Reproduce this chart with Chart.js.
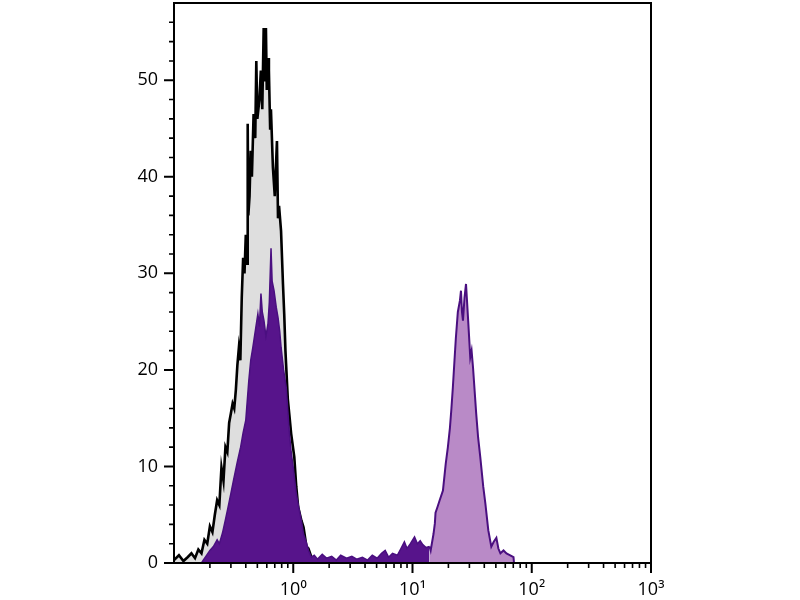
<!DOCTYPE html>
<html>
<head>
<meta charset="utf-8">
<script src="https://cdn.jsdelivr.net/npm/chart.js@4.4.1/dist/chart.umd.min.js"></script>
<style>
    html, body { margin: 0; padding: 0; background: #fff; }
    #wrap { width: 800px; height: 600px; position: relative; }
</style>
</head>
<body>
<div id="wrap"><canvas id="histChart"></canvas></div>
<script>
// Control (isotype) histogram - grey fill, black outline
const controlX = [0.10,0.11,0.12,0.13,0.14,0.15,0.16,0.17,0.18,0.19,0.20,0.21,0.22,0.23,0.24,0.25,0.26,0.27,0.28,0.29,0.30,0.31,0.32,0.33,0.34,0.35,0.36,0.37,0.38,0.39,0.40,0.41,0.415,0.42,0.43,0.44,0.45,0.465,0.48,0.49,0.50,0.52,0.535,0.55,0.565,0.58,0.59,0.60,0.615,0.625,0.64,0.65,0.675,0.70,0.73,0.745,0.76,0.79,0.82,0.84,0.86,0.87,0.90,0.925,0.96,1.02,1.06,1.10,1.17,1.22,1.29,1.34,1.42,1.50,1.60];
const controlY = [0.3,0.8,0.2,0.6,1.0,0.5,1.4,1.0,2.4,2.0,3.8,3.2,5.0,6.5,6.0,9.9,8.5,12.0,11.5,14.5,15.5,16.5,16.0,17.9,20.5,22.3,21.0,27.5,31.6,30.0,34.0,31.0,45.5,36.0,38.0,42.7,40.0,46.5,44.0,52.0,46.0,48.0,51.0,47.0,55.4,50.0,55.4,49.0,52.3,51.0,45.0,47.0,41.0,38.0,43.7,35.7,37.0,34.4,28.9,25.8,22.0,20.7,17.0,15.5,13.4,11.0,7.9,5.8,4.4,3.7,1.7,1.5,0.6,0.3,0];

// Stained sample, negative part (dark purple)
const negX = [0.17,0.176,0.19,0.20,0.214,0.23,0.24,0.255,0.27,0.281,0.30,0.316,0.34,0.362,0.38,0.40,0.424,0.44,0.458,0.48,0.505,0.52,0.536,0.55,0.568,0.59,0.614,0.63,0.651,0.665,0.69,0.72,0.746,0.77,0.791,0.83,0.873,0.925,0.96,1.0,1.06,1.11,1.17,1.22,1.29,1.35,1.42,1.5,1.6,1.75,1.9,2.1,2.3,2.5,2.8,3.1,3.4,3.8,4.2,4.6,5.05,5.5,5.9,6.3,6.8,7.46,8.0,8.55,9.0,9.6,10.4,11.0,11.6,12.2,13.0,13.9];
const negY = [0,0.3,0.9,1.3,1.7,2.4,2.0,3.1,4.5,5.5,7.2,8.6,10.5,12.0,13.5,14.8,18.9,21.0,22.3,24.0,25.8,24.5,27.9,26.0,25.1,23.5,24.8,27.0,32.6,29.2,28.2,26.5,25.4,24.0,22.3,20.0,18.2,13.7,11.5,9.9,7.2,5.8,4.4,3.0,2.1,1.2,0.6,0.8,0.4,0.9,0.5,0.7,0.3,0.8,0.5,0.7,0.4,0.6,0.3,0.8,0.5,1.0,1.3,0.6,1.0,0.8,1.5,2.2,1.5,2.0,2.7,2.0,2.3,1.9,1.6,1.7];

// Stained sample, positive part (light purple)
const posX = [13.9,14.2,15.0,15.4,15.6,16.2,16.9,18.0,19.0,19.8,20.6,21.2,21.8,22.5,23.1,24.0,25.0,25.5,26.0,26.5,27.3,28.1,28.7,29.3,30.5,31.3,32.2,34.2,35.5,37.0,39.2,40.8,43.2,45.8,48.0,50.5,52.5,54.6,58,61.4,66,70.3,71];
const posY = [1.7,1.3,3.0,4.1,5.2,5.8,6.5,7.5,10.3,12.0,14.0,16.0,18.2,21.0,23.3,26.0,27.2,28.2,26.0,25.1,27.5,28.9,27.0,25.1,21.3,22.0,20.2,15.5,13.0,11.0,7.9,6.2,3.4,1.7,2.2,2.6,1.5,1.0,1.3,1.0,0.8,0.6,0];

// Axes
const xMajor = [1, 10, 100, 1000];
const xLabels = ['10\u2070', '10\u00B9', '10\u00B2', '10\u00B3'];
const xMinor = [0.2,0.3,0.4,0.5,0.6,0.7,0.8,0.9,2,3,4,5,6,7,8,9,20,30,40,50,60,70,80,90,200,300,400,500,600,700,800,900];
const yMajor = [0, 10, 20, 30, 40, 50];
const yMinor = [2,4,6,8,12,14,16,18,22,24,26,28,32,34,36,38,42,44,46,48,52,54,56];

function toPoints(xs, ys) {
    return xs.map((v, i) => ({ x: v, y: ys[i] }));
}

// frame box + tick marks (major long, minor short)
const frameTicks = {
    id: 'frameTicks',
    afterDraw(chart) {
        const { ctx, chartArea: a, scales: { x, y } } = chart;
        ctx.save();
        ctx.strokeStyle = '#000';
        ctx.lineWidth = 2;
        ctx.strokeRect(a.left, a.top, a.right - a.left, a.bottom - a.top);

        ctx.beginPath();
        yMajor.forEach(v => { const p = y.getPixelForValue(v); ctx.moveTo(a.left, p); ctx.lineTo(a.left - 10, p); });
        xMajor.forEach(v => { const p = x.getPixelForValue(v); ctx.moveTo(p, a.bottom); ctx.lineTo(p, a.bottom + 10); });
        ctx.stroke();

        ctx.lineWidth = 1.6;
        ctx.beginPath();
        yMinor.forEach(v => { const p = y.getPixelForValue(v); ctx.moveTo(a.left, p); ctx.lineTo(a.left - 5, p); });
        xMinor.forEach(v => { const p = x.getPixelForValue(v); ctx.moveTo(p, a.bottom); ctx.lineTo(p, a.bottom + 5); });
        ctx.stroke();
        ctx.restore();
    }
};

function renderChart() {
    const ctx = document.getElementById('histChart').getContext('2d');

    new Chart(ctx, {
        type: 'line',
        data: {
            datasets: [
                {
                    label: 'Positive',
                    data: toPoints(posX, posY),
                    backgroundColor: '#b98ac7',
                    borderColor: '#4a0f80',
                    borderWidth: 2,
                    fill: 'origin',
                    order: 1
                },
                {
                    label: 'Negative',
                    data: toPoints(negX, negY),
                    backgroundColor: '#57148b',
                    borderColor: '#4a0f80',
                    borderWidth: 1.5,
                    fill: 'origin',
                    order: 2
                },
                {
                    label: 'Control',
                    data: toPoints(controlX, controlY),
                    backgroundColor: '#dedede',
                    borderColor: '#000',
                    borderWidth: 2.6,
                    fill: 'origin',
                    order: 3
                }
            ]
        },
        options: {
            responsive: true,
            maintainAspectRatio: false,
            animation: false,
            elements: {
                point: { radius: 0 },
                line: { tension: 0 }
            },
            layout: { padding: { top: 3, right: 149, left: 0, bottom: 0 } },
            plugins: {
                legend: { display: false },
                tooltip: { enabled: false }
            },
            scales: {
                x: {
                    type: 'logarithmic',
                    min: 0.1,
                    max: 1000,
                    grid: { display: false, drawTicks: false },
                    border: { display: false },
                    afterBuildTicks: s => { s.ticks = xMajor.map(v => ({ value: v })); },
                    afterFit: s => { s.height = 37; s.paddingLeft = 0; s.paddingRight = 0; },
                    ticks: {
                        color: '#000',
                        padding: 16,
                        maxRotation: 0,
                        autoSkip: false,
                        font: { family: 'Open Sans', size: 18 },
                        callback: v => xLabels[xMajor.indexOf(v)]
                    }
                },
                y: {
                    min: 0,
                    max: 58,
                    grid: { display: false, drawTicks: false },
                    border: { display: false },
                    afterBuildTicks: s => { s.ticks = yMajor.map(v => ({ value: v })); },
                    afterFit: s => { s.width = 174; s.paddingTop = 0; s.paddingBottom = 0; },
                    ticks: {
                        color: '#000',
                        padding: 16,
                        font: { family: 'Open Sans', size: 18 }
                    }
                }
            }
        },
        plugins: [frameTicks]
    });
}

document.addEventListener('DOMContentLoaded', () => {
    renderChart();
});
</script>
</body>
</html>
